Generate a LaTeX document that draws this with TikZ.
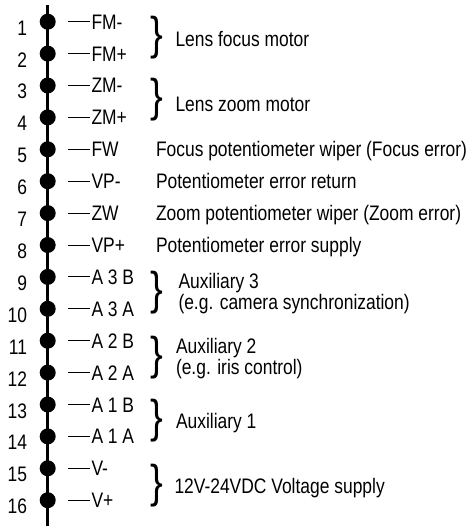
\documentclass[tikz,border=0pt]{standalone}
\usepackage{fontspec}
\setmainfont[FakeStretch=0.83]{Liberation Sans}
\begin{document}
\begin{tikzpicture}[x=1pt,y=-1pt,
  txt/.style={inner sep=0pt,outer sep=0pt,font=\fontsize{21}{21}\selectfont,text=black},
  pinlbl/.style={txt,anchor=base west},
  pinnum/.style={txt,anchor=base east},
  desc/.style={txt,anchor=base west},
  pindot/.style={circle,fill=black,inner sep=0pt,minimum size=16pt},
  bus/.style={line width=2.6pt,black},
  stub/.style={line width=1pt,black},
  bracket/.style={inner sep=0pt,outer sep=0pt,font=\fontsize{46}{46}\selectfont,text=black}]
\useasboundingbox (0,0) rectangle (473,526);
% bus line
\coordinate (bustop) at (47.7,5);
\coordinate (busbot) at (47.7,526);
\draw[bus] (bustop) -- (busbot);
% pins
\foreach \k/\lab in {1/FM-,2/FM+,3/ZM-,4/ZM+,5/FW,6/VP-,7/ZW,8/VP+,9/A 3 B,10/A 3 A,11/A 2 B,12/A 2 A,13/A 1 B,14/A 1 A,15/V-,16/V+}{
  \pgfmathsetmacro{\yy}{21.7+31.9*(\k-1)}
  \node[pindot] (p\k) at (47.7,\yy) {};
  \node[pinnum] (n\k) at (27,\yy+13.5) {\k};
  \coordinate (d\k) at (68,\yy);
  \node[pinlbl] (l\k) at (91.5,\yy+7.5) {\lab};
  \draw[stub] (d\k) -- ([xshift=-1.5pt]d\k -| l\k.west);
}
% braces
\foreach \b/\c in {1/38,2/100,3/292.5,4/357.5,5/421,6/486}{
  \node[bracket] (br\b) at (156.5,\c) {\}};
}
% descriptions
\node[desc] (t1) at (175.5,47) {Lens focus motor};
\node[desc] (t2) at (175.5,111.5) {Lens zoom motor};
\node[desc] (t5) at (156,156.8) {Focus potentiometer wiper (Focus error)};
\node[desc] (t6) at (156,188.7) {Potentiometer error return};
\node[desc] (t7) at (156,220.6) {Zoom potentiometer wiper (Zoom error)};
\node[desc] (t8) at (156,252.5) {Potentiometer error supply};
\node[desc] (t9a) at (178.5,288.5) {Auxiliary 3};
\node[desc] (t9b) at (178.5,309.5) {(e.g. camera synchronization)};
\node[desc] (t11a) at (176,353) {Auxiliary 2};
\node[desc] (t11b) at (176,374) {(e.g. iris control)};
\node[desc] (t13) at (176,428) {Auxiliary 1};
\node[desc] (t15) at (174.5,493) {12V-24VDC Voltage supply};
\end{tikzpicture}
\end{document}
